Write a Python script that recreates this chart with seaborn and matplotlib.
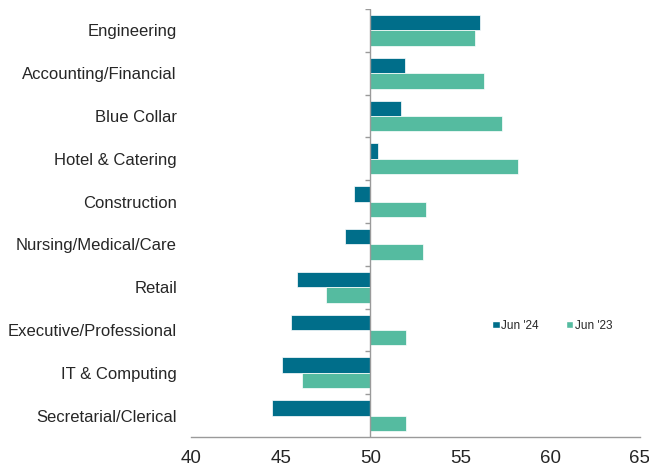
"""Job-category diffusion index: Jun '24 vs Jun '23, bars drawn from the 50 line."""

import numpy as np
import pandas as pd
import matplotlib
matplotlib.use("Agg")
import matplotlib.pyplot as plt
from matplotlib.patches import Patch
import seaborn as sns


categories = [
    "Engineering", "Accounting/Financial", "Blue Collar", "Hotel & Catering",
    "Construction", "Nursing/Medical/Care", "Retail", "Executive/Professional",
    "IT & Computing", "Secretarial/Clerical",
]
jun_24 = [56.1, 51.9, 51.7, 50.4, 49.1, 48.6, 45.9, 45.6, 45.1, 44.5]
jun_23 = [55.8, 56.3, 57.3, 58.2, 53.1, 52.9, 47.5, 52.0, 46.2, 52.0]
series_names = ["Jun '24", "Jun '23"]
x_ticks = [40, 45, 50, 55, 60, 65]

BASE = 50
COLORS = ["#006E8A", "#55BBA0"]
AXIS_GREY = "#9A9A9A"

df = pd.DataFrame({
    "category": categories * 2,
    "series": [series_names[0]] * len(categories) + [series_names[1]] * len(categories),
    "value": jun_24 + jun_23,
})
df["offset"] = df["value"] - BASE

sns.set_style("white")
plt.rcParams["font.family"] = ["Liberation Sans", "DejaVu Sans"]

fig = plt.figure(figsize=(6.49, 4.72), dpi=100)
ax = fig.add_axes([0.294, 0.074, 0.692, 0.907])

sns.barplot(
    data=df, y="category", x="offset", hue="series", orient="h",
    palette=COLORS, saturation=1, width=0.72, gap=0, left=BASE,
    edgecolor="white", linewidth=0.5, ax=ax, legend=False,
)

ax.set_xlim(40, 65)
ax.set_ylim(len(categories) - 0.5, -0.5)
ax.set_xticks(x_ticks)
ax.set_xticklabels([str(t) for t in x_ticks], fontsize=13.5)
ax.tick_params(axis="x", length=6, width=1, color=AXIS_GREY, pad=3)
ax.tick_params(axis="y", length=0, labelsize=12, pad=10)
ax.set_xlabel("")
ax.set_ylabel("")

for side in ["top", "right", "left"]:
    ax.spines[side].set_visible(False)
ax.spines["bottom"].set_color(AXIS_GREY)
ax.spines["bottom"].set_linewidth(1)

# vertical axis line at 50 with small separators between categories
ax.axvline(BASE, color=AXIS_GREY, linewidth=1, zorder=3)
bounds = np.arange(len(categories)) - 0.5
ax.hlines(bounds, BASE - 0.3, BASE, color=AXIS_GREY, linewidth=1, zorder=3)

handles = [Patch(facecolor=c, edgecolor="white", label=n) for c, n in zip(COLORS, series_names)]
ax.legend(
    handles=handles, loc="center left", bbox_to_anchor=(0.648, 0.26), ncol=2,
    frameon=False, fontsize=8.5, handlelength=0.6, handleheight=0.6,
    handletextpad=0.15, columnspacing=2.3,
)

fig.savefig("out.png", dpi=100, facecolor="white")
plt.close(fig)
